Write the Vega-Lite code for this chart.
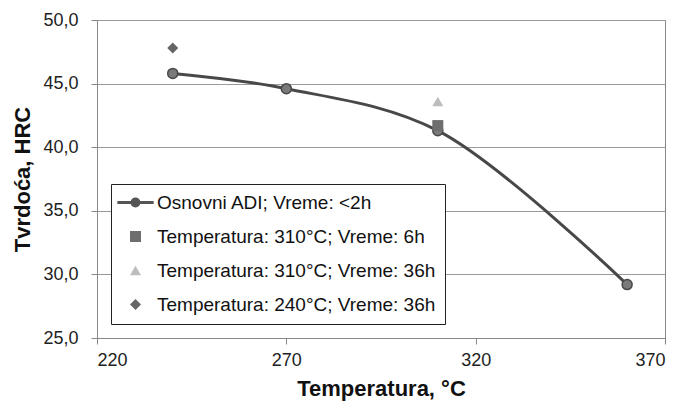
{
  "$schema": "https://vega.github.io/schema/vega-lite/v6.json",
  "width": 568,
  "height": 318,
  "autosize": {"type": "none"},
  "padding": {"left": 97, "top": 20, "right": 16, "bottom": 64},
  "background": "white",
  "config": {
    "font": "Liberation Sans",
    "view": {"stroke": "#8a8a8a", "strokeWidth": 1},
    "axis": {
      "labelFont": "Liberation Sans",
      "labelFontSize": 18,
      "labelColor": "#222",
      "titleFont": "Liberation Sans",
      "titleFontSize": 22,
      "titleFontWeight": "bold",
      "titleColor": "#111",
      "domainColor": "#888",
      "tickColor": "#888",
      "gridColor": "#9a9a9a",
      "tickSize": 6
    },
    "legend": {
      "labelFont": "Liberation Sans",
      "labelFontSize": 19,
      "labelColor": "#111"
    }
  },
  "data": {
    "values": [
      {"series": "Osnovni ADI; Vreme: <2h", "temp": 240, "hrc": 45.8},
      {"series": "Osnovni ADI; Vreme: <2h", "temp": 270, "hrc": 44.6},
      {"series": "Osnovni ADI; Vreme: <2h", "temp": 310, "hrc": 41.3},
      {"series": "Osnovni ADI; Vreme: <2h", "temp": 360, "hrc": 29.2},
      {"series": "Temperatura: 310°C; Vreme: 6h", "temp": 310, "hrc": 41.7},
      {"series": "Temperatura: 310°C; Vreme: 36h", "temp": 310, "hrc": 43.6},
      {"series": "Temperatura: 240°C; Vreme: 36h", "temp": 240, "hrc": 47.8}
    ]
  },
  "encoding": {
    "x": {
      "field": "temp",
      "type": "quantitative",
      "scale": {"domain": [220, 370], "nice": false, "zero": false},
      "axis": {
        "values": [220, 270, 320, 370],
        "grid": false,
        "title": "Temperatura, °C",
        "labelPadding": 7,
        "titlePadding": 9
      }
    },
    "y": {
      "field": "hrc",
      "type": "quantitative",
      "scale": {"domain": [25, 50], "nice": false, "zero": false},
      "axis": {
        "values": [25, 30, 35, 40, 45, 50],
        "grid": true,
        "title": "Tvrdoća, HRC",
        "labelExpr": "replace(format(datum.value, '.1f'), '.', ',')",
        "labelPadding": 13,
        "titlePadding": 8
      }
    }
  },
  "layer": [
    {
      "transform": [{"filter": "datum.series === 'Osnovni ADI; Vreme: <2h'"}],
      "mark": {"type": "line", "interpolate": "catmull-rom", "color": "#484848", "strokeWidth": 3}
    },
    {
      "transform": [{"filter": "datum.series === 'Osnovni ADI; Vreme: <2h'"}],
      "mark": {"type": "point", "shape": "circle", "filled": true, "fill": "#7a7a7a", "stroke": "#484848", "strokeWidth": 1.5, "size": 100, "opacity": 1}
    },
    {
      "transform": [{"filter": "datum.series !== 'Osnovni ADI; Vreme: <2h'"}],
      "mark": {"type": "point", "filled": true, "opacity": 1},
      "encoding": {
        "color": {
          "field": "series",
          "type": "nominal",
          "scale": {
            "domain": ["Osnovni ADI; Vreme: <2h", "Temperatura: 310°C; Vreme: 6h", "Temperatura: 310°C; Vreme: 36h", "Temperatura: 240°C; Vreme: 36h"],
            "range": ["#555555", "#6e6e6e", "#bdbdbd", "#666666"]
          },
          "legend": {
            "title": null,
            "orient": "none",
            "legendX": 14,
            "legendY": 164,
            "strokeColor": "#222",
            "fillColor": "white",
            "padding": 9,
            "rowPadding": 14,
            "symbolSize": 121,
            "symbolOffset": 6,
            "labelOffset": 12,
            "symbolStrokeWidth": 0,
            "labelLimit": 400
          }
        },
        "shape": {
          "field": "series",
          "type": "nominal",
          "scale": {
            "domain": ["Osnovni ADI; Vreme: <2h", "Temperatura: 310°C; Vreme: 6h", "Temperatura: 310°C; Vreme: 36h", "Temperatura: 240°C; Vreme: 36h"],
            "range": ["M-3.3,-0.27L3.3,-0.27L3.3,0.27L-3.3,0.27Z M0.9,0A0.9,0.9 0 1,1 -0.9,0A0.9,0.9 0 1,1 0.9,0Z", "square", "triangle-up", "diamond"]
          }
        },
        "size": {"value": 121}
      }
    }
  ]
}
